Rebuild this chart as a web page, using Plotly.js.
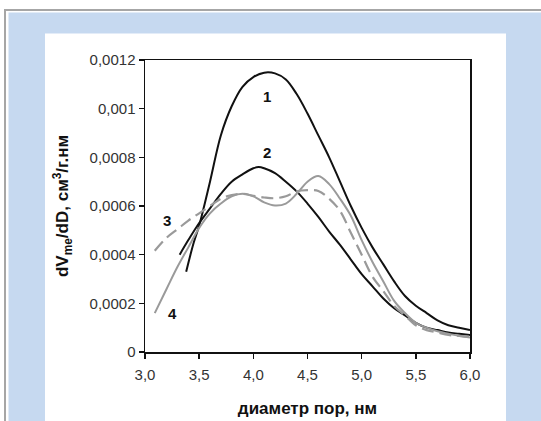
<!DOCTYPE html>
<html>
<head>
<meta charset="utf-8">
<script src="https://cdn.plot.ly/plotly-3.0.1.min.js"></script>
<style>
  html, body { margin: 0; padding: 0; background: #ffffff; }
  #chart { width: 541px; height: 421px; }
</style>
</head>
<body>
<div id="chart"></div>
<script>
// ---- data ----
const x1 = [3.38, 3.45, 3.5, 3.6, 3.7, 3.8, 3.9, 4.0, 4.1, 4.2, 4.3, 4.4, 4.5, 4.6, 4.7, 4.8, 4.9, 5.0, 5.1, 5.2, 5.3, 5.4, 5.5, 5.6, 5.7, 5.8, 5.9, 6.0];
const y1 = [0.00033, 0.00045, 0.00052, 0.0007, 0.00089, 0.00101, 0.00109, 0.00113, 0.001148, 0.001145, 0.00112, 0.00106, 0.00098, 0.00089, 0.0008, 0.0007, 0.0006, 0.00051, 0.00043, 0.00036, 0.00029, 0.00023, 0.00019, 0.00016, 0.00013, 0.00011, 0.0001, 0.00009];

const x2 = [3.32, 3.4, 3.5, 3.6, 3.7, 3.8, 3.9, 4.0, 4.05, 4.1, 4.2, 4.3, 4.4, 4.5, 4.6, 4.7, 4.8, 4.9, 5.0, 5.1, 5.2, 5.3, 5.4, 5.5, 5.6, 5.7, 5.8, 5.9, 6.0];
const y2 = [0.0004, 0.00046, 0.00053, 0.00059, 0.00065, 0.0007, 0.00073, 0.000755, 0.00076, 0.000755, 0.000735, 0.0007, 0.00066, 0.00061, 0.000555, 0.000495, 0.00044, 0.00038, 0.00032, 0.00027, 0.00022, 0.00018, 0.00015, 0.00012, 0.0001, 0.00009, 0.00008, 0.000075, 0.00007];

const x3 = [3.09, 3.2, 3.3, 3.4, 3.5, 3.6, 3.7, 3.8, 3.9, 4.0, 4.1, 4.2, 4.3, 4.4, 4.5, 4.6, 4.7, 4.8, 4.9, 5.0, 5.1, 5.2, 5.3, 5.4, 5.5, 5.6, 5.7, 5.8, 5.9, 6.0];
const y3 = [0.000416, 0.00047, 0.000505, 0.00054, 0.00057, 0.0006, 0.00063, 0.000645, 0.00065, 0.000642, 0.000635, 0.000632, 0.00064, 0.00066, 0.000665, 0.000662, 0.00063, 0.00058, 0.00049, 0.0004, 0.00031, 0.00025, 0.00019, 0.00015, 0.00011, 0.00009, 0.00008, 0.00007, 0.000066, 0.000063];

const x4 = [3.09, 3.2, 3.3, 3.4, 3.5, 3.6, 3.7, 3.8, 3.9, 4.0, 4.1, 4.2, 4.3, 4.4, 4.5, 4.6, 4.7, 4.8, 4.9, 5.0, 5.1, 5.2, 5.3, 5.4, 5.5, 5.6, 5.7, 5.8, 5.9, 6.0];
const y4 = [0.00016, 0.00026, 0.00035, 0.00043, 0.00051, 0.00057, 0.00061, 0.00064, 0.00065, 0.00064, 0.000615, 0.000602, 0.00061, 0.00065, 0.0007, 0.000723, 0.00069, 0.00063, 0.00056, 0.00046, 0.00037, 0.00029, 0.00021, 0.00016, 0.00012, 0.0001, 0.000085, 0.000075, 0.000066, 0.00006];

const curveNames = ["1", "2", "3", "4"];
const xTickVals = [3.0, 3.5, 4.0, 4.5, 5.0, 5.5, 6.0];
const xTickText = ["3,0", "3,5", "4,0", "4,5", "5,0", "5,5", "6,0"];
const yTickVals = [0, 0.0002, 0.0004, 0.0006, 0.0008, 0.001, 0.0012];
const yTickText = ["0", "0,0002", "0,0004", "0,0006", "0,0008", "0,001", "0,0012"];

// ---- layout helpers (pixel -> paper) ----
const W = 541, H = 421;
const L = 145, R = 71, T = 60, B = 69;
const pw = W - L - R, ph = H - T - B;
const px = v => (v - L) / pw;
const py = v => (H - B - v) / ph;

const black = "#111111";
const gray = "#9a9a9a";

const traces = [
  {x: x1, y: y1, name: curveNames[0], mode: "lines", line: {color: black, width: 2, shape: "spline", smoothing: 1}},
  {x: x2, y: y2, name: curveNames[1], mode: "lines", line: {color: black, width: 2, shape: "spline", smoothing: 1}},
  {x: x3, y: y3, name: curveNames[2], mode: "lines", line: {color: gray, width: 2.2, shape: "spline", smoothing: 1, dash: "12px,6px"}},
  {x: x4, y: y4, name: curveNames[3], mode: "lines", line: {color: gray, width: 2, shape: "spline", smoothing: 1}}
];

const labelFont = {family: "Liberation Sans, Arial, sans-serif", size: 15, color: "#111"};
const annotations = [
  {x: 4.126, y: 0.001048, text: "<b>" + curveNames[0] + "</b>"},
  {x: 4.126, y: 0.000818, text: "<b>" + curveNames[1] + "</b>"},
  {x: 3.203, y: 0.000542, text: "<b>" + curveNames[2] + "</b>"},
  {x: 3.258, y: 0.00016, text: "<b>" + curveNames[3] + "</b>"}
].map(a => Object.assign({xref: "x", yref: "y", showarrow: false, font: labelFont}, a));

const shapes = [
  {type: "rect", xref: "paper", yref: "paper", layer: "below",
   x0: px(5), x1: px(560), y0: py(10), y1: py(440),
   line: {color: "#a6a6a6", width: 2}, fillcolor: "#ffffff"},
  {type: "rect", xref: "paper", yref: "paper", layer: "below",
   x0: px(8.5), x1: px(560), y0: py(12.5), y1: py(440),
   line: {width: 0}, fillcolor: "#c6d9f0"},
  {type: "rect", xref: "paper", yref: "paper", layer: "below",
   x0: px(45), x1: px(506), y0: py(33.5), y1: py(440),
   line: {width: 0}, fillcolor: "#ffffff"}
];

const tickFont = {family: "Liberation Sans, Arial, sans-serif", size: 15, color: "#333"};
const titleFont = {family: "Liberation Sans, Arial, sans-serif", size: 17, color: "#111"};

const layout = {
  width: W, height: H,
  margin: {l: L, r: R, t: T, b: B, pad: 0},
  paper_bgcolor: "#ffffff",
  plot_bgcolor: "rgba(0,0,0,0)",
  showlegend: false,
  shapes: shapes,
  annotations: annotations,
  xaxis: {
    range: [3.0, 6.0], tickvals: xTickVals, ticktext: xTickText,
    showgrid: false, zeroline: false,
    showline: true, linecolor: "#111", linewidth: 1.5, mirror: true,
    ticks: "outside", ticklen: 5, tickwidth: 1.5, tickcolor: "#111",
    ticklabelstandoff: 3,
    tickfont: tickFont,
    title: {text: "<b>диаметр пор, нм</b>", font: titleFont, standoff: 20}
  },
  yaxis: {
    range: [0, 0.0012], tickvals: yTickVals, ticktext: yTickText,
    showgrid: false, zeroline: false,
    showline: true, linecolor: "#111", linewidth: 1.5, mirror: true,
    ticks: "outside", ticklen: 5, tickwidth: 1.5, tickcolor: "#111",
    tickfont: tickFont, automargin: true,
    title: {text: "<b>dV<sub>me</sub>/dD, см<sup>3</sup>/г.нм</b>", font: titleFont, standoff: 16}
  }
};

Plotly.newPlot("chart", traces, layout, {displayModeBar: false, staticPlot: true});
</script>
</body>
</html>
